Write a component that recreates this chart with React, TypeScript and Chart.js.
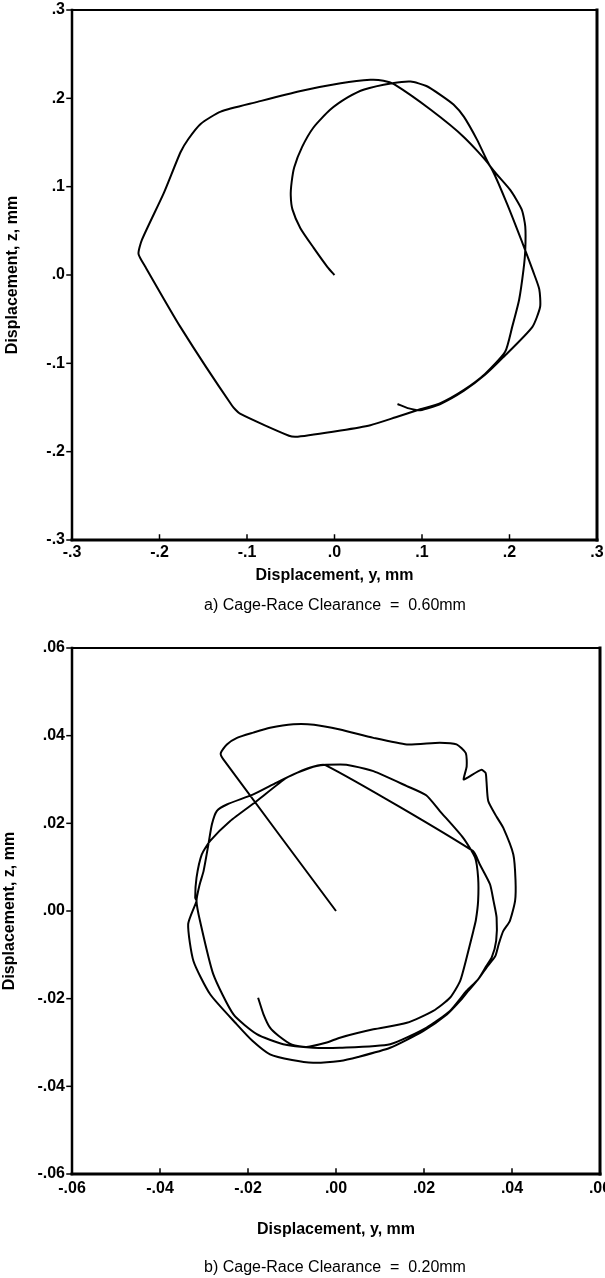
import React, { useEffect, useRef } from "react";
import { Chart, registerables } from "chart.js";

Chart.register(...registerables);

// ---------- Chart a) Cage-Race Clearance = 0.60mm ----------
const A_Y = [
  0, -0.008, -0.024, -0.039, -0.048, -0.05, -0.049, -0.046, -0.037, -0.024, -0.005, 0.015, 0.034, 0.066, 0.087,
  0.105, 0.121, 0.136, 0.148, 0.163, 0.178, 0.201, 0.214, 0.218, 0.218, 0.216, 0.211, 0.203, 0.195, 0.172,
  0.148, 0.121, 0.098, 0.07, 0.041, 0.007, -0.042, -0.052, -0.108, -0.117, -0.176, -0.216, -0.224, -0.22,
  -0.195, -0.176, -0.167, -0.153, -0.13, -0.088, -0.04, 0.007, 0.041, 0.056, 0.068, 0.11, 0.148, 0.178,
  0.197, 0.218, 0.227, 0.234, 0.235, 0.226, 0.193, 0.172, 0.148, 0.121, 0.098, 0.085, 0.072,
];
const A_Z = [
  0, 0.009, 0.031, 0.053, 0.074, 0.09, 0.105, 0.122, 0.145, 0.167, 0.187, 0.201, 0.21, 0.217, 0.219,
  0.214, 0.204, 0.193, 0.179, 0.153, 0.123, 0.096, 0.074, 0.055, 0.028, 0.006, -0.028, -0.059, -0.087, -0.112,
  -0.13, -0.145, -0.152, -0.161, -0.17, -0.176, -0.183, -0.182, -0.157, -0.148, -0.059, 0.009, 0.024, 0.04,
  0.093, 0.139, 0.154, 0.171, 0.185, 0.196, 0.208, 0.217, 0.221, 0.22, 0.216, 0.187, 0.156, 0.123,
  0.081, 0.028, 0.004, -0.016, -0.036, -0.059, -0.093, -0.113, -0.131, -0.146, -0.153, -0.151, -0.146,
];
const A_TICKS = [-0.3, -0.2, -0.1, 0, 0.1, 0.2, 0.3];
const A_TICK_LABELS = ["-.3", "-.2", "-.1", ".0", ".1", ".2", ".3"];

// ---------- Chart b) Cage-Race Clearance = 0.20mm ----------
const B_Y = [
  0, -0.0256, -0.0262, -0.0248, -0.0225, -0.0188, -0.015, -0.0097, -0.005, 0.0009, 0.0085, 0.0161, 0.0236,
  0.0274, 0.0295, 0.0297, 0.029, 0.03, 0.033, 0.034, 0.0342, 0.0346, 0.0365, 0.038, 0.0403, 0.0408, 0.0407,
  0.0395, 0.038, 0.037, 0.0362, 0.0342, 0.0323,
  0.03, 0.0282, 0.0252, 0.0198, 0.0123, 0.005, 0.0009, -0.0052, -0.01, -0.015, -0.019, -0.0226, -0.0286,
  -0.0324, -0.0336, -0.0317,
  -0.032, -0.0317, -0.0305, -0.0286, -0.0241, -0.018, -0.0112, -0.006, -0.0024,
  0.0311, 0.0327, 0.035, 0.0358,
  0.0365, 0.0364, 0.0354, 0.0342, 0.0323, 0.0297, 0.0259, 0.0206, 0.0123, 0.0009, -0.0052, -0.012, -0.018,
  -0.0233, -0.0279, -0.0309, -0.0317,
  -0.031, -0.0301, -0.029, -0.0282, -0.0271, -0.0248, -0.0188, -0.0135, -0.0089, -0.0044, 0.001, 0.0038,
  0.0085, 0.0161, 0.0205, 0.0236, 0.0289, 0.0316, 0.0323, 0.0323,
  0.0318, 0.0312, 0.0297, 0.0282, 0.0259, 0.0221, 0.0161, 0.0085, 0.0009, -0.0021, -0.0067, -0.01, -0.013,
  -0.015, -0.0165, -0.0177,
];
const B_Z = [
  0, 0.0346, 0.036, 0.038, 0.0395, 0.0407, 0.0418, 0.0426, 0.0425, 0.0414, 0.0395, 0.038, 0.0384,
  0.038, 0.036, 0.033, 0.03, 0.0305, 0.0322, 0.0315, 0.0296, 0.0251, 0.0215, 0.019, 0.0129, 0.007, 0.0023,
  -0.0023, -0.0046, -0.0075, -0.0103, -0.0129, -0.0156,
  -0.0183, -0.0205, -0.0236, -0.0274, -0.0312, -0.0333, -0.0342, -0.0346, -0.034, -0.0327, -0.0296, -0.0258, -0.019,
  -0.0114, -0.003, 0.0023,
  0.003, 0.0076, 0.0129, 0.016, 0.0205, 0.0251, 0.0304, 0.0327, 0.0333,
  0.0137, 0.0106, 0.0061, 0.0023,
  -0.0015, -0.0068, -0.0106, -0.0125, -0.0156, -0.0182, -0.0228, -0.0266, -0.0304, -0.0312, -0.0312, -0.0304, -0.0281,
  -0.0236, -0.0144, -0.0023, 0.0023,
  0.006, 0.0091, 0.0152, 0.0198, 0.0228, 0.0243, 0.0266, 0.0293, 0.0315, 0.0331, 0.0334, 0.0331,
  0.0319, 0.0285, 0.0264, 0.0228, 0.0167, 0.0122, 0.0076, 0.0023,
  -0.002, -0.0046, -0.0106, -0.016, -0.0198, -0.0228, -0.0255, -0.027, -0.0289, -0.03, -0.031, -0.0305, -0.0285,
  -0.0266, -0.0235, -0.0198,
];
const B_TICKS = [-0.06, -0.04, -0.02, 0, 0.02, 0.04, 0.06];
const B_TICK_LABELS = ["-.06", "-.04", "-.02", ".00", ".02", ".04", ".06"];

const X_TITLE = "Displacement, y, mm";
const Y_TITLE = "Displacement, z, mm";
const CAPTION_A = "a) Cage-Race Clearance  =  0.60mm";
const CAPTION_B = "b) Cage-Race Clearance  =  0.20mm";

const FONT = "'Liberation Sans', Arial, Helvetica, sans-serif";
const W = 605;

const framePlugin = {
  id: "frameAndTicks",
  afterDraw(chart: any) {
    const { ctx, chartArea } = chart;
    const { left, right, top, bottom } = chartArea;
    ctx.save();
    ctx.strokeStyle = "#000";
    ctx.lineCap = "square";
    const side = (w: number, x1: number, y1: number, x2: number, y2: number) => {
      ctx.lineWidth = w;
      ctx.beginPath();
      ctx.moveTo(x1, y1);
      ctx.lineTo(x2, y2);
      ctx.stroke();
    };
    side(2, left, top, right, top);
    side(2.5, left, top, left, bottom);
    side(3, left, bottom, right, bottom);
    side(3, right, top, right, bottom);
    ctx.lineWidth = 1.5;
    const xs = chart.scales.x;
    xs.ticks.forEach((t: any) => {
      const px = xs.getPixelForValue(t.value);
      ctx.beginPath();
      ctx.moveTo(px, bottom);
      ctx.lineTo(px, bottom - 5);
      ctx.stroke();
    });
    const ys = chart.scales.y;
    ys.ticks.forEach((t: any) => {
      const py = ys.getPixelForValue(t.value);
      ctx.beginPath();
      ctx.moveTo(left, py);
      ctx.lineTo(left - 5, py);
      ctx.stroke();
    });
    ctx.restore();
  },
};

type Cfg = {
  ys: number[];
  zs: number[];
  ticks: number[];
  labels: string[];
  height: number;
  plotTop: number;
  plotBottom: number;
  plotLeft: number;
  plotRight: number;
  xTickPad: number;
  xTitleY: number;
  yTitleX: number;
};

function Traj({ cfg }: { cfg: Cfg }) {
  const ref = useRef<HTMLCanvasElement | null>(null);
  useEffect(() => {
    if (!ref.current) return;
    const pts = cfg.ys.map((v, i) => ({ x: v, y: cfg.zs[i] }));
    const tickFont = { family: FONT, size: 16, weight: "bold" as const };
    const titleFont = { family: FONT, size: 16, weight: "bold" as const };
    const lh = 16 * 1.2;
    const chart = new Chart(ref.current, {
      type: "scatter",
      data: {
        datasets: [
          {
            data: pts,
            showLine: true,
            borderColor: "#000",
            borderWidth: 2,
            pointRadius: 0,
            tension: 0.2,
            fill: false,
          },
        ],
      },
      options: {
        animation: false,
        responsive: false,
        maintainAspectRatio: false,
        devicePixelRatio: 1,
        events: [],
        layout: { padding: { top: cfg.plotTop, right: W - cfg.plotRight, left: 0, bottom: 0 } },
        plugins: { legend: { display: false }, tooltip: { enabled: false }, title: { display: false } },
        scales: {
          x: {
            type: "linear",
            position: "bottom",
            min: cfg.ticks[0],
            max: cfg.ticks[cfg.ticks.length - 1],
            afterBuildTicks: (s: any) => {
              s.ticks = cfg.ticks.map((v) => ({ value: v }));
            },
            afterFit: (s: any) => {
              s.height = cfg.height - cfg.plotBottom;
              s.paddingLeft = 0;
              s.paddingRight = 0;
            },
            grid: { display: false, drawTicks: false },
            border: { display: false },
            ticks: {
              autoSkip: false,
              maxRotation: 0,
              minRotation: 0,
              padding: cfg.xTickPad,
              color: "#000",
              font: tickFont,
              callback: (_v: any, i: number) => cfg.labels[i],
            },
            title: {
              display: true,
              text: X_TITLE,
              color: "#000",
              font: titleFont,
              padding: { top: 0, bottom: cfg.height - cfg.xTitleY - lh / 2 },
            },
          },
          y: {
            type: "linear",
            position: "left",
            min: cfg.ticks[0],
            max: cfg.ticks[cfg.ticks.length - 1],
            afterBuildTicks: (s: any) => {
              s.ticks = cfg.ticks.map((v) => ({ value: v }));
            },
            afterFit: (s: any) => {
              s.width = cfg.plotLeft;
              s.paddingTop = 0;
              s.paddingBottom = 0;
            },
            grid: { display: false, drawTicks: false },
            border: { display: false },
            ticks: {
              autoSkip: false,
              padding: 7,
              color: "#000",
              font: tickFont,
              callback: (_v: any, i: number) => cfg.labels[i],
            },
            title: {
              display: true,
              text: Y_TITLE,
              color: "#000",
              font: titleFont,
              padding: { top: Math.max(0, cfg.yTitleX - lh / 2), bottom: 0 },
            },
          },
        },
      },
      plugins: [framePlugin],
    } as any);
    return () => chart.destroy();
  }, [cfg]);
  return <canvas ref={ref} width={W} height={cfg.height} style={{ display: "block", width: W, height: cfg.height }} />;
}

const CFG_A: Cfg = {
  ys: A_Y,
  zs: A_Z,
  ticks: A_TICKS,
  labels: A_TICK_LABELS,
  height: 620,
  plotTop: 10,
  plotBottom: 540,
  plotLeft: 72,
  plotRight: 597,
  xTickPad: 3,
  xTitleY: 576,
  yTitleX: 13,
};

const CFG_B: Cfg = {
  ys: B_Y,
  zs: B_Z,
  ticks: B_TICKS,
  labels: B_TICK_LABELS,
  height: 648,
  plotTop: 18,
  plotBottom: 544,
  plotLeft: 72,
  plotRight: 600,
  xTickPad: 5,
  xTitleY: 600,
  yTitleX: 9,
};

const captionStyle = (top: number): React.CSSProperties => ({
  position: "absolute",
  left: 70,
  width: 530,
  top,
  textAlign: "center",
  fontFamily: FONT,
  fontSize: 16,
  lineHeight: "18px",
  color: "#000",
  whiteSpace: "pre",
});

export default function App() {
  return (
    <div style={{ position: "absolute", left: 0, top: 0, width: W, height: 1278, background: "#fff", overflow: "hidden" }}>
      <div style={{ position: "absolute", left: 0, top: 0 }}>
        <Traj cfg={CFG_A} />
      </div>
      <div style={captionStyle(596)}>{CAPTION_A}</div>
      <div style={{ position: "absolute", left: 0, top: 630 }}>
        <Traj cfg={CFG_B} />
      </div>
      <div style={captionStyle(1258)}>{CAPTION_B}</div>
    </div>
  );
}
